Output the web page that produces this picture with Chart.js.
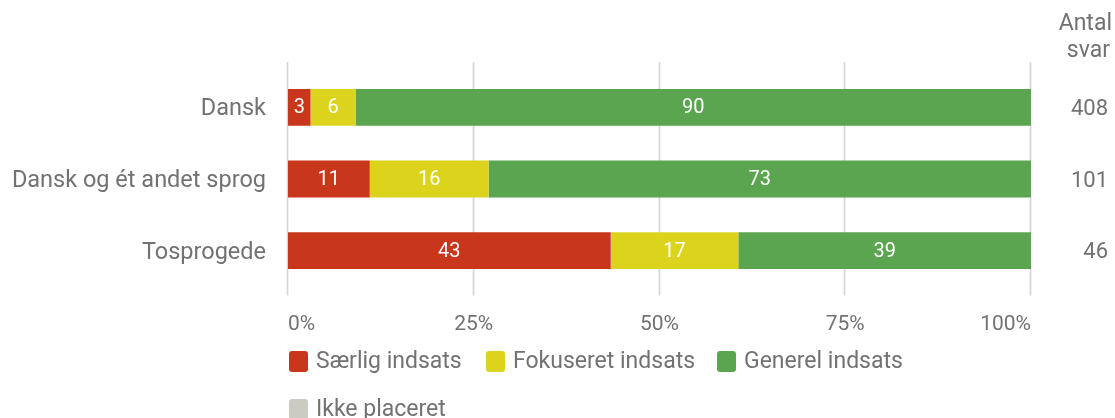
<!DOCTYPE html>
<html><head><meta charset="utf-8">
<script src="https://cdn.jsdelivr.net/npm/chart.js@4/dist/chart.umd.min.js"></script>
<style>
html,body{margin:0;padding:0;background:#fff;}
#wrap{position:relative;width:1115px;height:418px;overflow:hidden;font-family:Roboto,sans-serif;}
canvas{position:absolute;left:0;top:0;}
.leg{position:absolute;display:flex;align-items:center;color:#727272;font-size:23px;white-space:nowrap;height:26px;line-height:26px;}
.leg .b{display:inline-block;width:19px;height:21px;border-radius:3px;margin-right:8px;}
</style></head><body>
<div id="wrap"><canvas id="c" width="1115" height="418"></canvas><div id="legend"></div></div>
<script>
const categories = ["Dansk", "Dansk og ét andet sprog", "Tosprogede"];
const saerlig = [3, 11, 43];
const fokuseret = [6, 16, 17];
const generel = [90, 73, 39];
const ikkePlaceret = [0, 0, 0];
const antalSvar = [408, 101, 46];
const xTicks = ["0%", "25%", "50%", "75%", "100%"];
const xTickValues = [0, 25, 50, 75, 100];
const seriesNames = ["Særlig indsats", "Fokuseret indsats", "Generel indsats", "Ikke placeret"];
const seriesColors = ["#c8361b", "#dcd41c", "#5ca550", "#cbcbc3"];
const antalHeader = ["Antal", "svar"];

const raw = [saerlig, fokuseret, generel, ikkePlaceret];
const totals = categories.map((_, i) => raw.reduce((s, a) => s + a[i], 0));
const datasets = raw.map((arr, d) => ({
  label: seriesNames[d],
  data: arr.map((v, i) => v / totals[i] * 100),
  backgroundColor: seriesColors[d],
  borderWidth: 0,
  categoryPercentage: 1,
  barPercentage: 0.515
}));

const TEXT = '#727272';

const gridPlugin = {
  id: 'grid',
  beforeDatasetsDraw(chart) {
    const {ctx, chartArea} = chart;
    const xs = chart.scales.x;
    ctx.save();
    ctx.strokeStyle = '#d6d6d6';
    ctx.lineWidth = 1.7;
    xTickValues.forEach(v => {
      const x = Math.round(xs.getPixelForValue(v)) - 0.5;
      ctx.beginPath();
      ctx.moveTo(x, chartArea.top - 9.5);
      ctx.lineTo(x, chartArea.bottom + 9);
      ctx.stroke();
    });
    ctx.restore();
  }
};

const labelPlugin = {
  id: 'labels',
  afterDatasetsDraw(chart) {
    const {ctx} = chart;
    ctx.save();
    ctx.font = '20px Roboto';
    ctx.fillStyle = '#ffffff';
    ctx.textAlign = 'center';
    ctx.textBaseline = 'middle';
    for (let d = 0; d < 3; d++) {
      const meta = chart.getDatasetMeta(d);
      meta.data.forEach((el, i) => {
        const v = raw[d][i];
        if (v > 0) {
          const p = el.getCenterPoint();
          ctx.fillText(String(v), p.x, p.y + 1);
        }
      });
    }
    // Antal svar column
    ctx.fillStyle = TEXT;
    ctx.font = '23px Roboto';
    ctx.textAlign = 'right';
    ctx.fillText(antalHeader[0], 1112, 24);
    ctx.fillText(antalHeader[1], 1110, 51);
    ctx.font = '22px Roboto';
    const ys = chart.scales.y;
    antalSvar.forEach((n, i) => {
      ctx.fillText(String(n), 1108, ys.getPixelForValue(i) + 2);
    });
    ctx.restore();
  }
};

new Chart(document.getElementById('c'), {
  type: 'bar',
  data: { labels: categories, datasets },
  options: {
    indexAxis: 'y',
    responsive: false,
    animation: false,
    layout: { padding: { top: 71.5, right: 84, left: 0, bottom: 0 } },
    plugins: { legend: { display: false }, tooltip: { enabled: false } },
    scales: {
      x: {
        stacked: true, min: 0, max: 100,
        grid: { display: false, drawTicks: false }, border: { display: false },
        ticks: {
          stepSize: 25, align: 'inner', padding: 26,
          color: TEXT, font: { family: 'Roboto', size: 21 },
          callback: (v, i) => xTicks[i]
        },
        afterFit: s => { s.height = 131.5; }
      },
      y: {
        stacked: true,
        grid: { display: false, drawTicks: false }, border: { display: false },
        ticks: { padding: 22, labelOffset: 2, color: TEXT, font: { family: 'Roboto', size: 23.5 } },
        afterFit: s => { s.width = 288; }
      }
    }
  },
  plugins: [gridPlugin, labelPlugin]
});

// HTML legend
const legendPos = [[289, 348], [486, 348], [717, 348], [289, 396]];
const lg = document.getElementById('legend');
seriesNames.forEach((name, d) => {
  const div = document.createElement('div');
  div.className = 'leg';
  div.style.left = legendPos[d][0] + 'px';
  div.style.top = legendPos[d][1] + 'px';
  const b = document.createElement('span');
  b.className = 'b';
  b.style.background = seriesColors[d];
  div.appendChild(b);
  div.appendChild(document.createTextNode(name));
  lg.appendChild(div);
});
</script>
</body></html>
